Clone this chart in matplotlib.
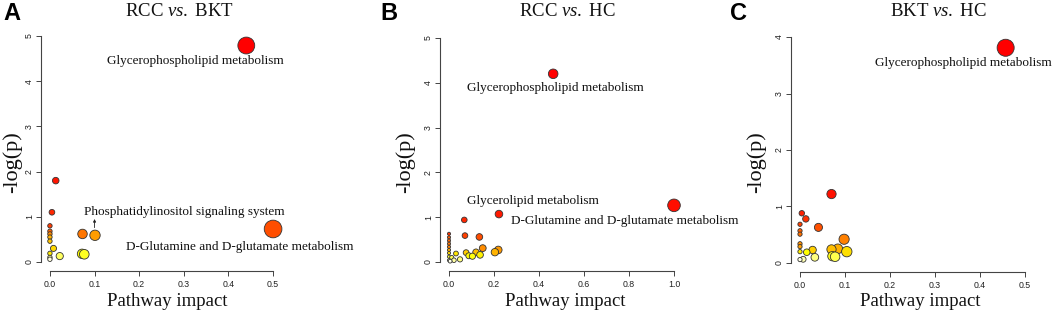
import numpy as np
import matplotlib
matplotlib.use("Agg")
import matplotlib.pyplot as plt
from matplotlib.colors import hsv_to_rgb

# ---------------- data ----------------
# Panel A: RCC vs. BKT
a_impact = [0.440, 0.013, 0.0045, 0.0, 0.500, 0.0, 0.073, 0.0, 0.101, 0.0, 0.0,
            0.008, 0.0, 0.072, 0.077, 0.022, 0.0, 0.0]
a_logp = [4.79, 1.80, 1.10, 0.80, 0.73, 0.68, 0.62, 0.62, 0.59, 0.55, 0.46,
          0.30, 0.19, 0.18, 0.17, 0.13, 0.10, 0.06]

# Panel B: RCC vs. HC
b_impact = [0.463, 1.0, 0.222, 0.068, 0.0, 0.071, 0.135, 0.0, 0.0, 0.0, 0.0,
            0.150, 0.219, 0.0, 0.204, 0.120, 0.076, 0.0, 0.031, 0.138, 0.088,
            0.104, 0.0, 0.012, 0.049, 0.022, 0.0, 0.005]
b_logp = [4.20, 1.265, 1.07, 0.94, 0.63, 0.59, 0.56, 0.55, 0.48, 0.41, 0.34,
          0.31, 0.27, 0.27, 0.22, 0.22, 0.21, 0.20, 0.19, 0.16, 0.14,
          0.13, 0.12, 0.10, 0.06, 0.04, 0.04, 0.02]

# Panel C: BKT vs. HC
c_impact = [0.457, 0.070, 0.004, 0.013, 0.0, 0.041, 0.0, 0.0, 0.098, 0.0, 0.0,
            0.084, 0.070, 0.028, 0.104, 0.0, 0.015, 0.072, 0.078, 0.033, 0.007, 0.0]
c_logp = [3.81, 1.22, 0.88, 0.78, 0.685, 0.63, 0.57, 0.51, 0.42, 0.34, 0.29,
          0.25, 0.24, 0.23, 0.20, 0.20, 0.19, 0.12, 0.11, 0.10, 0.065, 0.06]

titles = [("RCC ", "vs.", " BKT"), ("RCC ", "vs.", " HC"), ("BKT ", "vs.", " HC")]
panel_letters = ["A", "B", "C"]
x_ticks = [[0.0, 0.1, 0.2, 0.3, 0.4, 0.5], [0.0, 0.2, 0.4, 0.6, 0.8, 1.0],
           [0.0, 0.1, 0.2, 0.3, 0.4, 0.5]]
y_ticks = [[0, 1, 2, 3, 4, 5], [0, 1, 2, 3, 4, 5], [0, 1, 2, 3, 4]]

# annotations: (text, x, y)
a_labels = [("Glycerophospholipid metabolism", 0.326, 4.45),
            ("Phosphatidylinositol signaling system", 0.301, 1.11),
            ("D-Glutamine and D-glutamate metabolism", 0.426, 0.33)]
b_labels = [("Glycerophospholipid metabolism", 0.471, 3.88),
            ("Glycerolipid metabolism", 0.373, 1.36),
            ("D-Glutamine and D-glutamate metabolism", 0.782, 0.915)]
c_labels = [("Glycerophospholipid metabolism", 0.364, 3.54)]

# ---------------- style ----------------
W, H, DPI = 1059, 313, 100
SERIF = "Liberation Serif"
SANS = "Liberation Sans"
plt.rcParams["mathtext.fontset"] = "custom"
plt.rcParams["mathtext.rm"] = "Liberation Serif"
plt.rcParams["mathtext.it"] = "Liberation Serif:italic"

def heat_colors(n):
    j = n // 4
    i = n - j
    cols = []
    hs = np.linspace(0, 1 / 6, i) if i > 1 else [0.0]
    for h in hs:
        cols.append(hsv_to_rgb([h, 1, 1]))
    if j > 0:
        for s in np.linspace(1 - 1 / (2 * j), 1 / (2 * j), j):
            cols.append(hsv_to_rgb([1 / 6, s, 1]))
    return cols

fig = plt.figure(figsize=(W / DPI, H / DPI), dpi=DPI)

# plot regions in pixels: left, right, top, bottom
regions = [(41, 282, 27, 271), (440, 683, 29, 271), (791, 1034, 28, 272)]
title_x = [180, 567, 938]
letter_x = [3, 380, 730]
ylab_x = [12, 405, 756]
xlab_x = [167, 565, 920]

datasets = [(a_impact, a_logp, a_labels), (b_impact, b_logp, b_labels),
            (c_impact, c_logp, c_labels)]

for k, ((xs, ys, labels), (l, r, t, b)) in enumerate(zip(datasets, regions)):
    ax = fig.add_axes([l / W, (H - b) / H, (r - l) / W, (b - t) / H])
    xs = np.asarray(xs, float)
    ys = np.asarray(ys, float)
    xmax = x_ticks[k][-1]
    ymax = y_ticks[k][-1]
    ax.set_xlim(-0.04 * xmax, 1.04 * xmax)
    ax.set_ylim(-0.04 * ymax, 1.04 * ymax)

    # MetaboAnalyst-like radii in x-units
    sq = np.sqrt(xs)
    mn, mx = sq.min(), sq.max()
    maxR = (mx - mn) / 40
    minR = (mx - mn) / 160
    radi = minR + (maxR - minR) * (sq - mn) / (mx - mn)
    px_per_x = (r - l) / (1.08 * xmax)
    r_pt = radi * px_per_x * 72 / DPI * 1.12
    sizes = (2 * r_pt) ** 2

    order = np.argsort(-ys, kind="stable")
    cols = heat_colors(len(ys))
    colors = [None] * len(ys)
    for rank, idx in enumerate(order):
        colors[idx] = cols[rank]
    ax.scatter(xs, ys, s=sizes, c=colors, edgecolors="#333333",
               linewidths=0.6, zorder=3, clip_on=False)

    for txt, tx, ty in labels:
        ax.text(tx, ty, txt, family=SERIF, fontsize=9.5, ha="center",
                va="center", color="#111111", clip_on=False, zorder=4)

    if k == 0:
        ax.annotate("", xy=(0.1, 0.95), xytext=(0.1, 0.76),
                    arrowprops=dict(arrowstyle="-|>", lw=0.6, color="#222222",
                                    mutation_scale=4, shrinkA=0, shrinkB=0))

    for s in ["top", "right"]:
        ax.spines[s].set_visible(False)
    ax.spines["left"].set_bounds(0, ymax)
    ax.spines["bottom"].set_bounds(0, xmax)
    for s in ["left", "bottom"]:
        ax.spines[s].set_color("#444444")
        ax.spines[s].set_linewidth(0.8)
    ax.set_xticks(x_ticks[k])
    ax.set_xticklabels([f"{v:.1f}" for v in x_ticks[k]], family=SANS, fontsize=6.3)
    ax.set_yticks(y_ticks[k])
    ax.set_yticklabels([str(v) for v in y_ticks[k]], family=SANS, fontsize=6.3,
                       rotation=90, va="center")
    ax.tick_params(axis="both", length=3.5, width=0.7, color="#444444",
                   labelcolor="#222222")
    ax.tick_params(axis="x", pad=3)
    ax.tick_params(axis="y", pad=1.5)
    ax.patch.set_visible(False)

    p1, p2, p3 = titles[k]
    fig.text(title_x[k] / W, 1 - 11 / H,
             p1 + r"$\mathit{" + p2 + r"}$" + p3, family=SERIF, fontsize=13.5,
             ha="center", va="center", color="#111111")
    fig.text(letter_x[k] / W, 1 - 13.5 / H, panel_letters[k], family=SANS,
             fontsize=17, fontweight="bold", ha="left", va="center")
    fig.text(ylab_x[k] / W, 1 - 162 / H, "-log(p)", family=SERIF,
             fontsize=16, rotation=90, ha="center", va="center", color="#111111")
    fig.text(xlab_x[k] / W, 1 - 301 / H, "Pathway impact", family=SERIF,
             fontsize=13.5, ha="center", va="center", color="#111111")

fig.savefig("out.png", dpi=DPI)
